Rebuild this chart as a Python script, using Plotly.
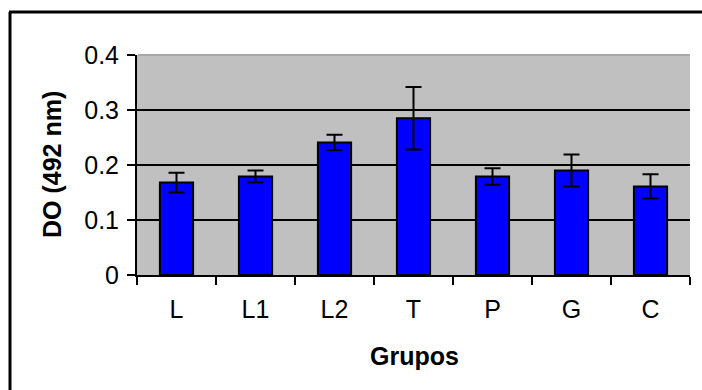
import plotly.graph_objects as go

categories = ["L", "L1", "L2", "T", "P", "G", "C"]
values = [0.168, 0.179, 0.241, 0.285, 0.179, 0.190, 0.161]
errors = [0.018, 0.011, 0.014, 0.057, 0.015, 0.029, 0.022]
y_ticks = [0, 0.1, 0.2, 0.3, 0.4]

W, H = 702, 390
ML, MR, MT, MB = 137, 12, 55, 115
PW, PH = W - ML - MR, H - MT - MB

def px_x(p):
    return (p - ML) / PW

def px_y(p):
    return (H - MB - p) / PH

fig = go.Figure()
fig.add_trace(go.Bar(
    x=categories, y=values,
    marker=dict(color="#0000FF", line=dict(color="black", width=2)),
    error_y=dict(type="data", array=errors, visible=True,
                 color="black", thickness=2, width=8),
    width=0.42,
))

font_family = "Liberation Sans, Arial, sans-serif"
FS = 25
fig.update_layout(
    width=W, height=H,
    margin=dict(l=ML, r=MR, t=MT, b=MB),
    paper_bgcolor="white",
    plot_bgcolor="#C0C0C0",
    showlegend=False,
    font=dict(family=font_family, size=FS, color="black"),
    xaxis=dict(
        type="category", tickson="boundaries", ticks="outside", ticklen=8,
        tickwidth=2, tickcolor="black", showline=True, linecolor="black",
        linewidth=2, showgrid=False, ticklabelstandoff=11,
        tickfont=dict(size=FS),
    ),
    yaxis=dict(
        range=[0, 0.4], tickvals=y_ticks, ticktext=[f"{v:g}" for v in y_ticks],
        ticks="outside", ticklen=8, tickwidth=2, tickcolor="black",
        showline=True, linecolor="black", linewidth=2,
        showgrid=True, gridcolor="black", gridwidth=1.5, zeroline=False,
        ticklabelstandoff=3, tickfont=dict(size=FS),
    ),
    annotations=[
        dict(text="<b>DO (492 nm)</b>", textangle=-90, xref="paper", yref="paper",
             x=px_x(52), y=px_y(165), xanchor="center", yanchor="middle",
             showarrow=False, font=dict(size=FS)),
        dict(text="<b>Grupos</b>", xref="paper", yref="paper",
             x=px_x(414), y=px_y(356), xanchor="center", yanchor="middle",
             showarrow=False, font=dict(size=FS)),
    ],
    shapes=[
        dict(type="line", xref="paper", yref="paper", x0=0.002, x1=1, y0=1, y1=1,
             line=dict(color="#A8A8A8", width=2), layer="above"),
        dict(type="line", xref="paper", yref="paper",
             x0=px_x(9), x1=px_x(702), y0=px_y(12), y1=px_y(12),
             line=dict(color="black", width=3), layer="above"),
        dict(type="line", xref="paper", yref="paper",
             x0=px_x(10), x1=px_x(10), y0=px_y(12), y1=px_y(390),
             line=dict(color="black", width=3), layer="above"),
    ],
)

fig.write_html(
    "out.html",
    config={"displayModeBar": False},
    post_script=(
        "document.documentElement.style.overflow='hidden';"
        "document.body.style.margin='0';document.body.style.overflow='hidden';"
    ),
)
